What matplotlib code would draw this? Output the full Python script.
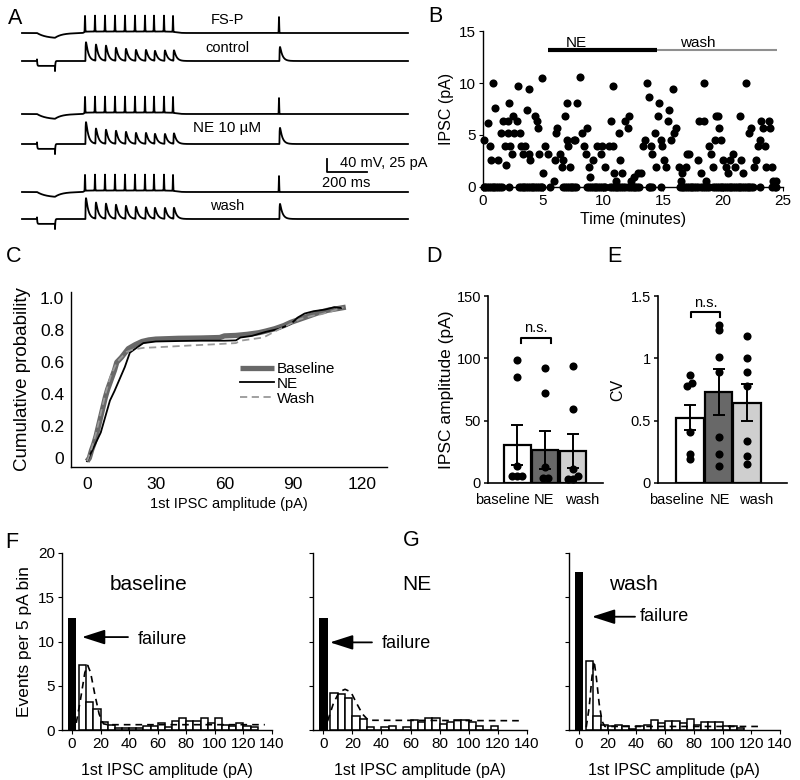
import numpy as np
import matplotlib
matplotlib.use('Agg')
import matplotlib.pyplot as plt

plt.rcParams['font.family'] = ['Liberation Sans', 'DejaVu Sans']
plt.rcParams['axes.linewidth'] = 1.0

# ---------------- DATA ----------------
# Panel A (traces)
spike_times = [315, 365, 415, 465, 515, 565, 615, 660, 710, 755]   # ms
late_spike = 1285                                                   # ms
spike_peak = 49                                                     # mV
hyper_on, hyper_off = 75, 165                                       # ms
ipsc_control = [36, 31, 29, 25, 23, 21, 21, 19, 20, 20]
ipsc_ne = [42, 29, 27, 25, 23, 21, 21, 19, 19, 20]
ipsc_wash = [40, 31, 29, 27, 25, 23, 22, 21, 21, 21]
late_control, late_ne, late_wash = 27, 31, 29
trace_labels = ["FS-P", "control", "NE 10 µM", "wash"]

# Panel B
b_t = [0.1, 0.4, 0.55, 0.7, 0.85, 1.0, 1.25, 1.5, 1.7, 1.8, 1.95, 2.1, 2.1, 2.2, 2.25, 2.4,
       2.5, 2.6, 2.8, 2.95, 3.1, 3.15, 3.35, 3.5, 3.65, 3.8, 3.8, 3.9, 4.35, 4.5, 4.6, 4.7,
       4.9, 5.0, 5.2, 5.45, 5.9, 6.0, 6.1, 6.2, 6.4, 6.6, 6.7, 6.85, 7.0, 7.0, 7.1, 7.25,
       7.55, 7.7, 7.8, 8.1, 8.25, 8.4, 8.6, 8.65, 8.8, 8.95, 9.2, 9.5, 9.8, 9.9, 10.2, 10.5,
       10.65, 10.8, 10.8, 10.95, 11.1, 11.3, 11.45, 11.6, 11.85, 12.05, 12.2, 12.35, 12.6,
       12.9, 13.2, 13.3, 13.5, 13.7, 13.85, 14.0, 14.1, 14.3, 14.4, 14.55, 14.7, 14.8, 14.95,
       15.1, 15.25, 15.4, 15.5, 15.65, 15.8, 15.95, 16.05, 16.35, 16.5, 16.6, 16.9, 17.0,
       17.2, 17.9, 18.2, 18.0, 18.4, 18.45, 18.6, 18.85, 19.0, 19.15, 19.3, 19.45, 19.6,
       19.7, 19.85, 20.0, 20.25, 20.4, 20.55, 20.8, 21.0, 21.4, 21.5, 21.65, 21.95, 22.2,
       22.35, 22.6, 22.75, 22.9, 23.05, 23.2, 23.3, 23.5, 23.6, 23.8, 23.9, 24.1, 24.2, 24.4]
b_amp = [4.5, 6.2, 3.9, 2.6, 10.0, 7.6, 2.6, 5.2, 6.3, 3.9, 2.1, 6.3, 5.2, 8.1, 3.9, 3.2,
         6.8, 5.2, 6.3, 9.7, 5.2, 3.9, 3.2, 3.9, 7.4, 9.4, 3.2, 2.6, 6.8, 6.3, 5.7, 3.2,
         10.5, 1.3, 3.9, 3.2, 0.6, 2.6, 5.2, 5.7, 3.2, 1.9, 2.6, 6.8, 8.1, 4.5, 3.9, 1.9,
         4.5, 4.5, 8.1, 10.6, 5.2, 3.9, 3.2, 5.7, 1.9, 1.0, 2.6, 3.9, 3.2, 3.9, 1.9, 3.9,
         6.3, 9.7, 3.9, 1.3, 0.6, 5.2, 2.6, 1.3, 6.3, 5.7, 6.8, 0.6, 1.0,
         1.3, 1.3, 3.9, 4.5, 10.0, 8.7, 3.9, 3.2, 5.2, 1.9, 6.8, 8.1, 4.5, 3.9,
         2.6, 1.9, 6.3, 7.4, 4.5, 9.4, 5.2, 5.7, 1.9, 0.6, 1.3, 1.9, 3.2,
         3.2, 2.6, 1.3, 6.3, 6.3, 10.0, 0.6, 3.9, 3.2, 1.9, 4.5, 6.8, 6.8,
         5.7, 4.5, 2.6, 1.9, 1.3, 2.6, 3.2, 1.9, 6.8, 2.6, 1.3, 10.0, 5.2,
         5.7, 1.9, 2.6, 3.9, 4.5, 6.3, 5.7, 3.9, 1.9, 6.3, 5.7, 1.9, 0.6, 0.6]
b_fail_t = [0.05, 0.2, 0.35, 0.5, 0.65, 0.8, 0.95, 1.1, 1.25, 1.4, 1.55, 2.2, 3.0, 3.15,
            3.3, 3.45, 3.6, 3.75, 3.9, 4.05, 4.2, 4.35, 4.5, 4.65, 4.8, 4.95, 5.6, 6.7,
            6.85, 7.0, 7.15, 7.3, 7.45, 7.6, 7.75, 8.7, 8.85, 9.0, 9.15, 9.3, 9.45, 9.6,
            9.75, 9.9, 10.05, 10.2, 10.6, 10.75, 10.9, 11.05, 11.2, 11.35, 11.5, 11.65,
            11.8, 12.1, 12.25, 12.4, 12.55, 12.7, 12.85, 13.0, 13.8, 13.95, 14.1, 14.8,
            16.4, 16.55, 16.7, 16.85, 17.0, 17.15, 17.3, 17.45, 17.6, 17.75, 17.9, 18.2,
            18.35, 18.5, 18.65, 18.8, 19.2, 19.35, 19.5, 19.65, 19.8, 19.95, 20.1, 20.25,
            20.4, 20.55, 20.7, 20.85, 21.0, 21.15, 21.3, 21.45, 21.6, 21.75, 21.9, 22.05,
            22.2, 22.35, 22.5, 23.1, 24.1, 24.3, 24.45]
ne_period = (5.4, 14.5)
wash_period = (14.5, 24.5)

# Panel C (cumulative distributions)
c_base_x = [0, 1, 2, 3, 4, 5, 6, 7, 8, 9, 10, 12, 13, 15, 18, 21, 24, 27, 30, 40, 50, 58,
            60, 65, 70, 75, 78, 82, 86, 89, 93, 97, 101, 105, 109, 113]
c_base_y = [-0.02, 0.0, 0.05, 0.09, 0.14, 0.2, 0.26, 0.32, 0.38, 0.43, 0.47, 0.55, 0.6,
            0.63, 0.685, 0.71, 0.73, 0.74, 0.745, 0.75, 0.752, 0.755, 0.765, 0.768, 0.775,
            0.785, 0.795, 0.81, 0.83, 0.85, 0.87, 0.89, 0.91, 0.925, 0.935, 0.945]
c_ne_x = [0, 2, 4, 6, 8, 10, 12, 14.4, 16.5, 18.7, 21.6, 24.6, 30, 40, 50, 60, 65, 67, 72,
          78, 84, 89, 92, 95, 99, 104, 108, 111]
c_ne_y = [-0.02, 0.04, 0.1, 0.16, 0.26, 0.36, 0.42, 0.5, 0.57, 0.66, 0.69, 0.72, 0.73,
          0.733, 0.735, 0.735, 0.737, 0.755, 0.765, 0.79, 0.81, 0.84, 0.88, 0.905, 0.92,
          0.93, 0.945, 0.94]
c_wash_x = [0, 2, 4, 6, 8, 10.2, 13, 17.3, 20, 24.6, 32, 45, 55, 65, 67, 72, 77, 83, 88,
            93, 98, 102, 107, 112]
c_wash_y = [-0.02, 0.06, 0.16, 0.28, 0.4, 0.51, 0.6, 0.665, 0.68, 0.69, 0.695, 0.705,
            0.712, 0.72, 0.735, 0.745, 0.755, 0.8, 0.835, 0.87, 0.89, 0.9, 0.92, 0.945]

# Panel D / E
groups = ["baseline", "NE", "wash"]
d_mean = [30.5, 26.5, 25.7]
d_sem = [16.0, 15.2, 13.3]
d_points = [[99, 85, 14, 6, 6, 6], [92, 72, 13, 4, 4], [94, 59, 11, 6, 3, 3]]
e_mean = [0.524, 0.73, 0.644]
e_sem = [0.10, 0.187, 0.15]
e_points = [[0.87, 0.80, 0.775, 0.41, 0.23, 0.19],
            [1.265, 1.225, 1.01, 0.89, 0.37, 0.235, 0.14],
            [1.176, 1.0, 0.888, 0.78, 0.337, 0.214, 0.15]]
bar_colors = ["white", "#686868", "#cfcfcf"]

# Panels F / G (histograms, 5 pA bins starting at 5 pA)
fail_base, fail_ne, fail_wash = 12.6, 12.7, 17.8
h_base = [7.4, 3.2, 2.35, 0.9, 0.55, 0.25, 0.2, 0.2, 0.2, 0.45, 0.45, 0.8, 0.3, 1.0,
          1.3, 1.0, 1.0, 1.3, 0.75, 1.3, 0.55, 0.45, 0.8, 0.45, 0.3]
h_ne = [4.2, 4.1, 3.6, 1.6, 1.2, 0.3, 0.0, 0.3, 0.4, 0.0, 0.3, 1.1, 0.9, 1.3, 1.3, 0.65,
        0.9, 1.1, 1.1, 0.9, 0.4, 0.0, 0.4]
h_wash = [7.8, 1.6, 0.55, 0.45, 0.55, 0.4, 0.1, 0.45, 0.55, 1.1, 0.75, 1.05, 1.05, 0.75,
          1.2, 0.55, 0.95, 0.85, 0.85, 0.45, 0.4, 0.2]
fit_base_x = [3, 6, 9, 11, 13, 16, 19, 22, 25, 135]
fit_base_y = [0.8, 3.5, 6.5, 7.3, 6.5, 4.0, 1.8, 0.7, 0.6, 0.6]
fit_ne_x = [3, 7, 11, 15, 19, 23, 27, 31, 135]
fit_ne_y = [1.0, 3.0, 4.3, 4.6, 4.3, 3.0, 1.8, 1.1, 1.05]
fit_wash_x = [5, 7, 9, 10.5, 12, 14, 16, 18, 125]
fit_wash_y = [0.3, 2.5, 6.0, 7.8, 6.0, 3.0, 1.0, 0.4, 0.4]
bin_width = 5

# ---------------- FIGURE ----------------
W, H = 800, 780
fig = plt.figure(figsize=(W / 100, H / 100), dpi=100)


def ax_px(l, t, r, b):
    return fig.add_axes([l / W, 1 - b / H, (r - l) / W, (b - t) / H])


def ftext(x, y, s, **kw):
    fig.text(x / W, 1 - y / H, s, **kw)


# ---------- Panel A ----------
axA = ax_px(0, 0, 420, 235)
MS_PER_PX = 5.0
MV_PER_PX = 40 / 13.0
PA2MV = 40 / 25.0
axA.set_xlim(-22 * MS_PER_PX, (420 - 22) * MS_PER_PX)
axA.set_ylim(235, 0)
axA.axis('off')
t = np.arange(0, 1930, 0.25)
all_spikes = spike_times + [late_spike]


def vtrace():
    v = np.zeros_like(t)
    m = (t >= hyper_on) & (t < hyper_off)
    v[m] = -17 * (1 - np.exp(-(t[m] - hyper_on) / 45))
    vend = -17 * (1 - np.exp(-(hyper_off - hyper_on) / 45))
    m2 = t >= hyper_off
    v[m2] = vend * np.exp(-(t[m2] - hyper_off) / 35)
    v += 4.5 / (1 + np.exp(-(t - spike_times[0] + 5) / 3)) / (1 + np.exp((t - spike_times[-1] - 15) / 12))
    for ts in all_spikes:
        v += spike_peak * np.exp(-((t - ts) / 1.4) ** 2)
    return v


def itrace(amps, late_amp):
    i = np.zeros_like(t)
    m = (t >= hyper_on) & (t < hyper_off)
    i[m] = -15
    d1 = t - hyper_on
    i += np.where(d1 >= 0, 20 * np.exp(-np.clip(d1, 0, None) / 1.5), 0)
    d2 = t - hyper_off
    i += np.where(d2 >= 0, -31 * np.exp(-np.clip(d2, 0, None) / 1.5), 0)
    kt = np.arange(0, 200, 0.25)
    kern = np.exp(-kt / 12) - np.exp(-kt / 1.2)
    kmax = kern.max()
    for ts, a in zip(all_spikes, amps + [late_amp]):
        d = t - ts - 2
        dc = np.clip(d, 0, None)
        k = np.where(d >= 0, np.exp(-dc / 12) - np.exp(-dc / 1.2), 0)
        i += a * PA2MV * k / kmax
    return i


bases = [33, 61, 114, 144, 192, 219]
vt = vtrace()
traces = [vt, itrace(ipsc_control, late_control), vt, itrace(ipsc_ne, late_ne),
          vt, itrace(ipsc_wash, late_wash)]
for base, tr in zip(bases, traces):
    axA.plot(t, base - tr / MV_PER_PX, color='black', lw=1.3)

for lab, ypx in zip(trace_labels, [20, 48, 128, 206]):
    axA.text((227 - 22) * MS_PER_PX, ypx, lab, ha='center', va='center',
             fontsize=10.5 if lab != "NE 10 µM" else 11)
# scale bar
sb_t0 = (327 - 22) * MS_PER_PX
sb_y = 172
axA.plot([sb_t0, sb_t0, sb_t0 + 200], [sb_y - 40 / MV_PER_PX, sb_y, sb_y], color='black', lw=1.3)
axA.text(sb_t0 + 13 * MS_PER_PX, 163, "40 mV, 25 pA", ha='left', va='center', fontsize=10.5)
axA.text(sb_t0 - 5 * MS_PER_PX, 183, "200 ms", ha='left', va='center', fontsize=10.5)

# ---------- Panel B ----------
axB = ax_px(483, 31, 783, 187)
axB.scatter(b_t + b_fail_t, b_amp + [0] * len(b_fail_t), s=34, color='black',
            clip_on=False, zorder=3, linewidths=0)
axB.set_xlim(0, 25)
axB.set_ylim(0, 15)
axB.set_xticks([0, 5, 10, 15, 20, 25])
axB.set_yticks([0, 5, 10, 15])
axB.spines[['top', 'right']].set_visible(False)
axB.tick_params(direction='out', length=3, labelsize=11, pad=2)
axB.plot(ne_period, [13.15, 13.15], color='black', lw=3, solid_capstyle='butt')
axB.plot(wash_period, [13.15, 13.15], color='#8f8f8f', lw=1.5, solid_capstyle='butt')
axB.text(7.8, 13.85, "NE", ha='center', va='center', fontsize=11)
axB.text(17.9, 13.85, "wash", ha='center', va='center', fontsize=11)
axB.set_xlabel("Time (minutes)", fontsize=11.5, labelpad=3)
axB.set_ylabel("IPSC (pA)", fontsize=11.5, labelpad=4)

# ---------- Panel C ----------
axC = ax_px(71, 292, 387, 467)
axC.plot(c_base_x, c_base_y, color='#686868', lw=3.8, label='Baseline', solid_capstyle='butt')
axC.plot(c_ne_x, c_ne_y, color='black', lw=1.3, label='NE')
axC.plot(c_wash_x, c_wash_y, color='#999999', lw=1.3, ls=(0, (4, 2.5)), label='Wash')
axC.set_xlim(-7, 131)
axC.set_ylim(-0.056, 1.04)
axC.set_xticks([0, 30, 60, 90, 120])
axC.set_yticks([0, 0.2, 0.4, 0.6, 0.8, 1.0])
axC.set_yticklabels(["0", "0.2", "0.4", "0.6", "0.8", "1.0"])
axC.spines[['top', 'right']].set_visible(False)
axC.tick_params(length=0, labelsize=12.5)
axC.tick_params(axis='x', pad=7)
axC.tick_params(axis='y', pad=5)
axC.set_xlabel("1st IPSC amplitude (pA)", fontsize=10.5, labelpad=4)
axC.set_ylabel("Cumulative probability", fontsize=13.5, labelpad=6)
axC.legend(loc='upper left', bbox_to_anchor=(0.535, 0.60), frameon=False, fontsize=11,
           handlelength=2.2, handletextpad=0.2, labelspacing=0.05, borderpad=0,
           borderaxespad=0)


# ---------- Panels D, E ----------
def swarm_offsets(vals, ypx_unit, xpx_unit, dpx=8.0, spread=5.0):
    order = sorted(range(len(vals)), key=lambda k: vals[k])
    offs = [0.0] * len(vals)
    groups_ = []
    cur = [order[0]]
    for k in order[1:]:
        if (vals[k] - vals[cur[-1]]) * ypx_unit < 0.6 * dpx:
            cur.append(k)
        else:
            groups_.append(cur)
            cur = [k]
    groups_.append(cur)
    for g in groups_:
        n = len(g)
        for j, k in enumerate(g):
            offs[k] = (j - (n - 1) / 2) * spread / xpx_unit
    return offs


def bar_panel(ax, means, sems, pts, ypx_unit, xpx_unit, width):
    x = np.arange(len(means))
    ax.bar(x, means, width=width, color=bar_colors, edgecolor='black', lw=1.6, zorder=2)
    ax.errorbar(x, means, yerr=sems, fmt='none', ecolor='black', elinewidth=1.4,
                capsize=4, capthick=1.4, zorder=3)
    for i, p in enumerate(pts):
        offs = swarm_offsets(p, ypx_unit, xpx_unit)
        ax.scatter([i + o for o in offs], p, s=34, color='black', zorder=4,
                   linewidths=0, clip_on=False)
    ax.spines[['top', 'right']].set_visible(False)
    ax.spines['bottom'].set_linewidth(1.2)
    ax.spines['left'].set_linewidth(1.2)
    ax.tick_params(axis='y', direction='out', length=3, width=1.1, labelsize=10.5, pad=2)
    ax.tick_params(axis='x', length=0, labelsize=10.5, pad=7)


axD = ax_px(488, 296, 603, 483)
bar_panel(axD, d_mean, d_sem, d_points, 187 / 150, 27.7, 0.95)
axD.set_xlim(-1.06, 3.08)
axD.set_ylim(0, 150)
axD.set_yticks([0, 50, 100, 150])
axD.set_xticks([-0.55, 0.96, 2.32])
axD.set_xticklabels(groups)
axD.set_ylabel("IPSC amplitude (pA)", fontsize=12.5, labelpad=2)
axD.plot([0.13, 0.13, 1.2, 1.2], [112, 116.5, 116.5, 112], color='black', lw=1.5, clip_on=False)
axD.text(0.665, 118.5, "n.s.", ha='center', va='bottom', fontsize=10.5)

axE = ax_px(658, 296, 787, 483)
bar_panel(axE, e_mean, e_sem, e_points, 187 / 1.5, 28.5, 0.97)
axE.set_xlim(-1.12, 3.4)
axE.set_ylim(0, 1.5)
axE.set_yticks([0, 0.5, 1, 1.5])
axE.set_yticklabels(["0", "0.5", "1", "1.5"])
axE.set_xticks([-0.49, 1.05, 2.32])
axE.set_xticklabels(groups)
axE.set_ylabel("CV", fontsize=11.5, labelpad=4)
axE.plot([0.03, 0.03, 1.05, 1.05], [1.33, 1.372, 1.372, 1.33], color='black', lw=1.5, clip_on=False)
axE.text(0.54, 1.39, "n.s.", ha='center', va='bottom', fontsize=10.5)


# ---------- Panels F, G ----------
def hist_panel(ax, fail, heights, fx_, fy_, title, title_x, arrow_tip, arrow_tail, fail_xy,
               show_ylabels):
    edges = bin_width * (1 + np.arange(len(heights)))
    ax.bar(edges, heights, width=bin_width, align='edge', color='white',
           edgecolor='black', lw=1.1, zorder=2)
    ax.bar([0], [fail], width=6, color='black', zorder=3)
    ax.plot(fx_, fy_, color='black', lw=1.2, ls=(0, (4, 3)), zorder=4)
    ax.set_xlim(-7, 140)
    ax.set_ylim(0, 20)
    ax.set_xticks(np.arange(0, 141, 20))
    ax.set_yticks([0, 5, 10, 15, 20])
    if not show_ylabels:
        ax.set_yticklabels([])
    ax.spines[['top', 'right']].set_visible(False)
    ax.tick_params(direction='out', length=3, labelsize=11, pad=2)
    ax.text(title_x, 16.4, title, ha='center', va='center', fontsize=15)
    ax.annotate('', xy=arrow_tip, xytext=arrow_tail,
                arrowprops=dict(arrowstyle='-|>,head_length=1.4,head_width=0.45',
                                color='black', lw=1.3, shrinkA=0, shrinkB=0))
    ax.text(fail_xy[0], fail_xy[1], "failure", ha='left', va='center', fontsize=13)


axF = ax_px(62, 553, 272, 730)
hist_panel(axF, fail_base, h_base, fit_base_x, fit_base_y, "baseline", 53.9,
           (7, 10.5), (39.2, 10.5), (46.2, 10.2), True)
axF.set_ylabel("Events per 5 pA bin", fontsize=12.5, labelpad=4)
axG = ax_px(313, 553, 527, 730)
hist_panel(axG, fail_ne, h_ne, fit_ne_x, fit_ne_y, "NE", 64.4,
           (4.7, 9.9), (33.5, 9.9), (40.4, 9.8), False)
axW = ax_px(569, 553, 780, 730)
hist_panel(axW, fail_wash, h_wash, fit_wash_x, fit_wash_y, "wash", 37.6,
           (9, 12.8), (39, 12.8), (42.5, 12.8), False)
for x_c in [167, 420, 674]:
    ftext(x_c, 771, "1st IPSC amplitude (pA)", ha='center', va='center', fontsize=11.5)

# panel letters
for lab, (x, y) in {"A": (15, 18), "B": (435, 17), "C": (14, 256), "D": (434, 256),
                    "E": (614, 256), "F": (12, 543), "G": (411, 541)}.items():
    ftext(x, y, lab, ha='center', va='center', fontsize=15.5)

fig.savefig("out.png", dpi=100)
